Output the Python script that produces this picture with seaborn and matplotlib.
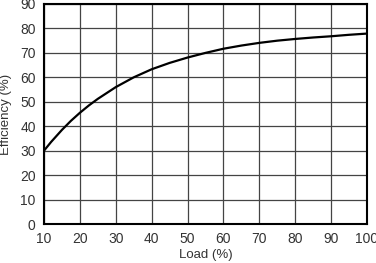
import matplotlib
matplotlib.use("Agg")
import matplotlib.pyplot as plt
import seaborn as sns
import pandas as pd

load = [10, 12, 15, 17.5, 20, 22.5, 25, 30, 35, 40, 45, 50, 55, 60, 65, 70, 75, 80, 85, 90, 95, 100]
efficiency = [30.0, 33.6, 38.5, 42.2, 45.5, 48.5, 51.2, 56.0, 60.0, 63.3, 65.9, 68.1, 70.0, 71.7, 73.0, 74.1, 75.0, 75.7, 76.3, 76.8, 77.4, 77.9]
x_ticks = [10, 20, 30, 40, 50, 60, 70, 80, 90, 100]
y_ticks = [0, 10, 20, 30, 40, 50, 60, 70, 80, 90]

df = pd.DataFrame({"Load (%)": load, "Efficiency (%)": efficiency})

sns.set_style("white")
plt.rcParams["font.family"] = ["Liberation Sans", "DejaVu Sans"]

fig = plt.figure(figsize=(3.76, 2.63), dpi=100)
ax = fig.add_axes([44/376, 1 - 224/263, (367-44)/376, (224-4)/263])

sns.lineplot(data=df, x="Load (%)", y="Efficiency (%)", ax=ax, color="black", linewidth=1.6)

ax.set_xlim(10, 100)
ax.set_ylim(0, 90)
ax.set_xticks(x_ticks)
ax.set_yticks(y_ticks)
ax.grid(True, color="#444444", linewidth=0.9)
ax.tick_params(length=0, labelsize=10, colors="#333333", pad=6)
for s in ax.spines.values():
    s.set_color("black")
    s.set_linewidth(1.5)
ax.set_xlabel("Load (%)", fontsize=9.5, color="#333333", labelpad=2)
ax.set_ylabel("Efficiency (%)", fontsize=9.5, color="#333333", labelpad=6)

fig.savefig("out.png", dpi=100)
